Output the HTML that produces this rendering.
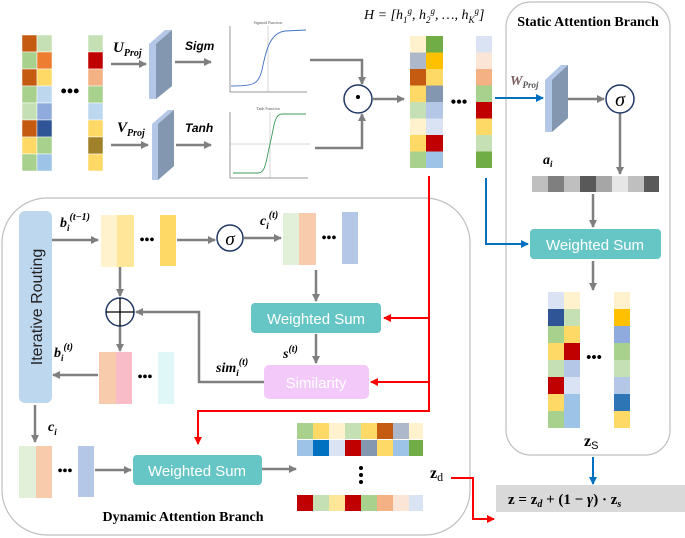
<!DOCTYPE html>
<html><head><meta charset="utf-8"><style>
body{margin:0;background:#fff}
svg{display:block}
text{font-family:"Liberation Serif",serif}
.s{font-family:"Liberation Sans",sans-serif}
</style></head><body>
<svg width="685" height="538" viewBox="0 0 685 538" xmlns="http://www.w3.org/2000/svg">
<defs>
<marker id="ag" markerWidth="8" markerHeight="8" refX="7" refY="4" orient="auto" markerUnits="userSpaceOnUse"><path d="M0,0 L8,4 L0,8 z" fill="#7f7f7f"/></marker>
<marker id="ar" markerWidth="8" markerHeight="8" refX="7" refY="4" orient="auto" markerUnits="userSpaceOnUse"><path d="M0,0 L8,4 L0,8 z" fill="#ff0000"/></marker>
<marker id="ab" markerWidth="8" markerHeight="8" refX="7" refY="4" orient="auto" markerUnits="userSpaceOnUse"><path d="M0,0 L8,4 L0,8 z" fill="#0070c0"/></marker>
</defs>

<!-- Boxes -->
<rect x="2" y="198" width="468" height="337" rx="45" fill="none" stroke="#bfbfbf" stroke-width="1.2"/>
<rect x="506" y="2" width="164" height="453" rx="25" fill="none" stroke="#bfbfbf" stroke-width="1.2"/>
<text x="588" y="26" font-size="14" font-weight="bold" text-anchor="middle">Static Attention Branch</text>
<text x="183" y="521" font-size="14" font-weight="bold" text-anchor="middle">Dynamic Attention Branch</text>

<g stroke="#808080" stroke-width="2.5" fill="none">
<!-- top arrows -->
<line x1="111" y1="64" x2="146" y2="64" marker-end="url(#ag)"/>
<line x1="175" y1="62" x2="211" y2="62" marker-end="url(#ag)"/>
<line x1="111" y1="145" x2="148" y2="145" marker-end="url(#ag)"/>
<line x1="176" y1="145" x2="211" y2="145" marker-end="url(#ag)"/>
<polyline points="310,60 362,60 362,84" marker-end="url(#ag)"/>
<polyline points="315,148 362,148 362,114" marker-end="url(#ag)"/>
<line x1="373" y1="99" x2="404" y2="99" marker-end="url(#ag)"/>
<line x1="568" y1="99" x2="604" y2="99" marker-end="url(#ag)"/>
<line x1="620" y1="113" x2="620" y2="174" marker-end="url(#ag)"/>
<line x1="593" y1="194" x2="593" y2="227" marker-end="url(#ag)"/>
<line x1="593" y1="261" x2="593" y2="290" marker-end="url(#ag)"/>
<!-- dynamic -->
<line x1="52" y1="240" x2="98" y2="240" marker-end="url(#ag)"/>
<line x1="177" y1="240" x2="215" y2="240" marker-end="url(#ag)"/>
<line x1="244" y1="238" x2="281" y2="238" marker-end="url(#ag)"/>
<line x1="316" y1="270" x2="316" y2="301" marker-end="url(#ag)"/>
<line x1="316" y1="334" x2="316" y2="363" marker-end="url(#ag)"/>
<polyline points="264,382 199,382 199,312 136,312" marker-end="url(#ag)"/>
<line x1="120" y1="267" x2="120" y2="296" marker-end="url(#ag)"/>
<line x1="120" y1="326" x2="120" y2="351" marker-end="url(#ag)"/>
<line x1="98" y1="375" x2="53" y2="375" marker-end="url(#ag)"/>
<line x1="35" y1="405" x2="35" y2="442" marker-end="url(#ag)"/>
<line x1="95" y1="470" x2="131" y2="470" marker-end="url(#ag)"/>
<line x1="262" y1="469" x2="296" y2="469" marker-end="url(#ag)"/>
</g>

<!-- red -->
<g stroke="#ff0000" stroke-width="2" fill="none">
<polyline points="429,176 429,411 198,411 198,444" marker-end="url(#ar)"/>
<line x1="429" y1="318" x2="384" y2="318" marker-end="url(#ar)"/>
<line x1="429" y1="382" x2="371" y2="382" marker-end="url(#ar)"/>
<polyline points="451,478 473,478 473,519 494,519" marker-end="url(#ar)"/>
</g>
<!-- blue -->
<g stroke="#0070c0" stroke-width="2" fill="none">
<line x1="495" y1="98" x2="543" y2="98" marker-end="url(#ab)"/>
<polyline points="486,178 486,244 528,244" marker-end="url(#ab)"/>
<line x1="593" y1="457" x2="593" y2="484" marker-end="url(#ab)"/>
</g>

<!-- Input matrix -->
<g stroke="#fff" stroke-width="0.5">
<rect x="22" y="35" width="15" height="17" fill="#c55a11"/><rect x="37" y="35" width="15" height="17" fill="#c5e0b4"/>
<rect x="22" y="52" width="15" height="17" fill="#a9d18e"/><rect x="37" y="52" width="15" height="17" fill="#ed7d31"/>
<rect x="22" y="69" width="15" height="17" fill="#c55a11"/><rect x="37" y="69" width="15" height="17" fill="#ffd966"/>
<rect x="22" y="86" width="15" height="17" fill="#a9d18e"/><rect x="37" y="86" width="15" height="17" fill="#bdd7ee"/>
<rect x="22" y="103" width="15" height="17" fill="#c5e0b4"/><rect x="37" y="103" width="15" height="17" fill="#8faadc"/>
<rect x="22" y="120" width="15" height="17" fill="#c55a11"/><rect x="37" y="120" width="15" height="17" fill="#2f5597"/>
<rect x="22" y="137" width="15" height="17" fill="#ffd966"/><rect x="37" y="137" width="15" height="17" fill="#a9d18e"/>
<rect x="22" y="154" width="15" height="17" fill="#a9d18e"/><rect x="37" y="154" width="15" height="17" fill="#9dc3e6"/>
<rect x="88" y="35" width="15" height="17" fill="#c5e0b4"/><rect x="88" y="52" width="15" height="17" fill="#c00000"/>
<rect x="88" y="69" width="15" height="17" fill="#f4b183"/><rect x="88" y="86" width="15" height="17" fill="#a9d18e"/>
<rect x="88" y="103" width="15" height="17" fill="#bdd7ee"/><rect x="88" y="120" width="15" height="17" fill="#ffd966"/>
<rect x="88" y="137" width="15" height="17" fill="#a0812a"/><rect x="88" y="154" width="15" height="17" fill="#ffd966"/>
</g>
<text x="70" y="97" font-size="18" font-weight="bold" text-anchor="middle">•••</text>

<!-- prisms -->
<polygon points="149,44 165,30 172,30 172,86 156,99 149,99" fill="#b4c7e7"/>
<polygon points="156,44 172,30 172,86 156,99" fill="#8497b0"/>
<polygon points="152,124 168,110 174,110 174,166 158,180 152,180" fill="#b4c7e7"/>
<polygon points="158,124 174,110 174,166 158,180" fill="#8497b0"/>
<polygon points="545,80 561,65 568,65 568,118 552,132 545,132" fill="#b4c7e7"/>
<polygon points="552,80 568,65 568,118 552,132" fill="#8497b0"/>

<text x="113" y="52" font-size="15" font-weight="bold" font-style="italic">U<tspan font-size="10" dy="4">Proj</tspan></text>
<text x="117" y="132" font-size="15" font-weight="bold" font-style="italic">V<tspan font-size="10" dy="4">Proj</tspan></text>
<text x="185" y="50" font-size="12" font-weight="bold" font-style="italic" class="s">Sigm</text>
<text x="185" y="132" font-size="12" font-weight="bold" font-style="italic" class="s">Tanh</text>
<text x="510" y="85" font-size="14" font-weight="bold" font-style="italic" fill="#7f6060">W<tspan font-size="9" dy="3" fill="#555">Proj</tspan></text>

<!-- plots -->
<g font-size="4" fill="#555" class="s">
<text x="268" y="24" text-anchor="middle">Sigmoid Function</text>
<line x1="230" y1="92" x2="307" y2="92" stroke="#333" stroke-width="0.5"/>
<line x1="230" y1="26" x2="230" y2="92" stroke="#333" stroke-width="0.5"/>
<line x1="268" y1="26" x2="268" y2="92" stroke="#999" stroke-width="0.4"/>
<path d="M231,86 C255,86 258,84 262,70 C266,50 270,33 285,31 L306,30" stroke="#4472c4" fill="none" stroke-width="0.9"/>
<text x="268" y="110" text-anchor="middle">Tanh Function</text>
<line x1="230" y1="178" x2="308" y2="178" stroke="#333" stroke-width="0.5"/>
<line x1="230" y1="112" x2="230" y2="178" stroke="#333" stroke-width="0.5"/>
<line x1="230" y1="144" x2="310" y2="144" stroke="#999" stroke-width="0.4"/>
<line x1="270" y1="112" x2="270" y2="178" stroke="#999" stroke-width="0.4"/>
<path d="M233,173 L258,173 C266,173 266,160 270,144 C274,128 274,114 282,114 L306,114" stroke="#3a9a5a" fill="none" stroke-width="0.9"/>
</g>

<!-- odot -->
<circle cx="358" cy="99" r="14" fill="#fff" stroke="#1f3864" stroke-width="1.5"/>
<circle cx="358" cy="97" r="2" fill="#000"/>

<text x="364" y="19" font-size="14" font-style="italic">H = [h<tspan font-size="9" dy="4">1</tspan><tspan font-size="9" dy="-9">g</tspan><tspan dy="5">, h</tspan><tspan font-size="9" dy="4">2</tspan><tspan font-size="9" dy="-9">g</tspan><tspan dy="5">, …, h</tspan><tspan font-size="9" dy="4">K</tspan><tspan font-size="9" dy="-9">g</tspan><tspan dy="5">]</tspan></text>

<!-- H matrix -->
<g>
<rect x="410" y="36" width="16" height="16.5" fill="#fff2cc"/><rect x="426" y="36" width="17" height="16.5" fill="#70ad47"/>
<rect x="410" y="52.5" width="16" height="16.5" fill="#adb9ca"/><rect x="426" y="52.5" width="17" height="16.5" fill="#ffc000"/>
<rect x="410" y="69" width="16" height="16.5" fill="#c55a11"/><rect x="426" y="69" width="17" height="16.5" fill="#ffd966"/>
<rect x="410" y="85.5" width="16" height="16.5" fill="#ffd966"/><rect x="426" y="85.5" width="17" height="16.5" fill="#8497b0"/>
<rect x="410" y="102" width="16" height="16.5" fill="#c5e0b4"/><rect x="426" y="102" width="17" height="16.5" fill="#b4c7e7"/>
<rect x="410" y="118.5" width="16" height="16.5" fill="#fff2cc"/><rect x="426" y="118.5" width="17" height="16.5" fill="#dae3f3"/>
<rect x="410" y="135" width="16" height="16.5" fill="#ffd966"/><rect x="426" y="135" width="17" height="16.5" fill="#c00000"/>
<rect x="410" y="151.5" width="16" height="16.5" fill="#a9d18e"/><rect x="426" y="151.5" width="17" height="16.5" fill="#9dc3e6"/>
<rect x="476" y="36" width="16" height="16.5" fill="#dae3f3"/><rect x="476" y="52.5" width="16" height="16.5" fill="#fbe5d6"/>
<rect x="476" y="69" width="16" height="16.5" fill="#f4b183"/><rect x="476" y="85.5" width="16" height="16.5" fill="#a9d18e"/>
<rect x="476" y="102" width="16" height="16.5" fill="#c00000"/><rect x="476" y="118.5" width="16" height="16.5" fill="#ffd966"/>
<rect x="476" y="135" width="16" height="16.5" fill="#c5e0b4"/><rect x="476" y="151.5" width="16" height="16.5" fill="#70ad47"/>
</g>
<text x="459" y="107" font-size="16" font-weight="bold" text-anchor="middle">•••</text>

<!-- static -->
<circle cx="620" cy="99" r="14" fill="#fff" stroke="#1f3864" stroke-width="1.5"/>
<text x="620" y="106" font-size="20" font-style="italic" text-anchor="middle">σ</text>
<text x="543" y="164" font-size="14" font-weight="bold" font-style="italic">a<tspan font-size="9" dy="3">i</tspan></text>
<g>
<rect x="532" y="176" width="16" height="16" fill="#bfbfbf"/><rect x="548" y="176" width="16" height="16" fill="#7f7f7f"/>
<rect x="564" y="176" width="16" height="16" fill="#bfbfbf"/><rect x="580" y="176" width="16" height="16" fill="#595959"/>
<rect x="596" y="176" width="16" height="16" fill="#a6a6a6"/><rect x="612" y="176" width="16" height="16" fill="#e7e6e6"/>
<rect x="628" y="176" width="16" height="16" fill="#bfbfbf"/><rect x="644" y="176" width="15" height="16" fill="#595959"/>
</g>
<rect x="530" y="229" width="131" height="30" rx="4" fill="#66c5c5"/>
<text x="595" y="250" font-size="15" fill="#fff" text-anchor="middle" class="s">Weighted Sum</text>
<g>
<rect x="548" y="292" width="16" height="17" fill="#dae3f3"/><rect x="564" y="292" width="16" height="17" fill="#fff2cc"/>
<rect x="548" y="309" width="16" height="17" fill="#2f5597"/><rect x="564" y="309" width="16" height="17" fill="#c5e0b4"/>
<rect x="548" y="326" width="16" height="17" fill="#a9d18e"/><rect x="564" y="326" width="16" height="17" fill="#ffd966"/>
<rect x="548" y="343" width="16" height="17" fill="#ffd966"/><rect x="564" y="343" width="16" height="17" fill="#c00000"/>
<rect x="548" y="360" width="16" height="17" fill="#c5e0b4"/><rect x="564" y="360" width="16" height="17" fill="#b4c7e7"/>
<rect x="548" y="377" width="16" height="17" fill="#c00000"/><rect x="564" y="377" width="16" height="17" fill="#dae3f3"/>
<rect x="548" y="394" width="16" height="17" fill="#ffd966"/><rect x="564" y="394" width="16" height="17" fill="#9dc3e6"/>
<rect x="548" y="411" width="16" height="17" fill="#a9d18e"/><rect x="564" y="411" width="16" height="17" fill="#9dc3e6"/>
<rect x="614" y="292" width="16" height="17" fill="#fff2cc"/><rect x="614" y="309" width="16" height="17" fill="#ffc000"/>
<rect x="614" y="326" width="16" height="17" fill="#8faadc"/><rect x="614" y="343" width="16" height="17" fill="#a9d18e"/>
<rect x="614" y="360" width="16" height="17" fill="#c5e0b4"/><rect x="614" y="377" width="16" height="17" fill="#b4c7e7"/>
<rect x="614" y="394" width="16" height="17" fill="#2e75b6"/><rect x="614" y="411" width="16" height="17" fill="#ffd966"/>
</g>
<text x="594" y="362" font-size="15" font-weight="bold" text-anchor="middle">•••</text>
<text x="584" y="446" font-size="16" font-weight="bold">z<tspan font-size="11" dy="3" font-weight="normal" class="s">S</tspan></text>

<rect x="496" y="485" width="189" height="27" fill="#d9d9d9"/>
<text x="508" y="504" font-size="15" font-weight="bold">z = z<tspan font-size="10" dy="3" font-style="italic">d</tspan><tspan dy="-3"> + (1 − </tspan><tspan font-style="italic">γ</tspan>) · z<tspan font-size="10" dy="3" font-style="italic">s</tspan></text>

<!-- dynamic -->
<rect x="19" y="211" width="33" height="192" rx="6" fill="#bdd7ee"/>
<text transform="translate(42,307) rotate(-90)" font-size="16" text-anchor="middle" class="s" fill="#222">Iterative Routing</text>
<text x="60" y="227" font-size="14" font-weight="bold" font-style="italic">b<tspan font-size="9" dy="4">i</tspan><tspan font-size="10" dy="-11">(t−1)</tspan></text>
<rect x="101" y="215" width="16" height="52" fill="#fff2cc"/><rect x="117" y="215" width="17" height="52" fill="#ffe699"/>
<rect x="160" y="215" width="16" height="51" fill="#ffd966"/>
<text x="147" y="244" font-size="14" font-weight="bold" text-anchor="middle">•••</text>
<circle cx="230" cy="238" r="13" fill="#fff" stroke="#1f3864" stroke-width="1.5"/>
<text x="230" y="245" font-size="19" font-style="italic" text-anchor="middle">σ</text>
<text x="260" y="225" font-size="14" font-weight="bold" font-style="italic">c<tspan font-size="9" dy="4">i</tspan><tspan font-size="10" dy="-11">(t)</tspan></text>
<rect x="283" y="213" width="16" height="52" fill="#e2f0d9"/><rect x="299" y="213" width="17" height="52" fill="#f8cbad"/>
<rect x="342" y="212" width="16" height="52" fill="#b4c7e7"/>
<text x="329" y="242" font-size="14" font-weight="bold" text-anchor="middle">•••</text>
<rect x="251" y="303" width="130" height="30" rx="4" fill="#66c5c5"/>
<text x="316" y="324" font-size="15" fill="#fff" text-anchor="middle" class="s">Weighted Sum</text>
<text x="283" y="358" font-size="14" font-weight="bold" font-style="italic">s<tspan font-size="10" dy="-6">(t)</tspan></text>
<rect x="264" y="365" width="105" height="34" rx="5" fill="#f3c9f9"/>
<text x="316" y="388" font-size="15" fill="#fff" text-anchor="middle" class="s">Similarity</text>
<text x="216" y="372" font-size="14" font-weight="bold" font-style="italic">sim<tspan font-size="9" dy="4">i</tspan><tspan font-size="10" dy="-11">(t)</tspan></text>
<circle cx="120" cy="312" r="14" fill="#fff" stroke="#1f3864" stroke-width="1.5"/>
<line x1="106" y1="312" x2="134" y2="312" stroke="#000" stroke-width="1.3"/>
<line x1="120" y1="298" x2="120" y2="326" stroke="#000" stroke-width="1.3"/>
<text x="54" y="357" font-size="14" font-weight="bold" font-style="italic">b<tspan font-size="9" dy="4">i</tspan><tspan font-size="10" dy="-11">(t)</tspan></text>
<rect x="99" y="352" width="17" height="52" fill="#f8cbad"/><rect x="116" y="352" width="16" height="52" fill="#f8bbc8"/>
<rect x="158" y="352" width="16" height="52" fill="#e0f7f7"/>
<text x="145" y="381" font-size="14" font-weight="bold" text-anchor="middle">•••</text>
<text x="48" y="431" font-size="14" font-weight="bold" font-style="italic">c<tspan font-size="9" dy="4">i</tspan></text>
<rect x="19" y="446" width="17" height="52" fill="#e2f0d9"/><rect x="36" y="446" width="16" height="52" fill="#f8cbad"/>
<rect x="78" y="446" width="16" height="51" fill="#b4c7e7"/>
<text x="65" y="475" font-size="14" font-weight="bold" text-anchor="middle">•••</text>
<rect x="133" y="455" width="129" height="30" rx="4" fill="#66c5c5"/>
<text x="197" y="476" font-size="15" fill="#fff" text-anchor="middle" class="s">Weighted Sum</text>
<g>
<rect x="297" y="423" width="16" height="16" fill="#a9d18e"/><rect x="313" y="423" width="16" height="16" fill="#ffd966"/>
<rect x="329" y="423" width="16" height="16" fill="#fff2cc"/><rect x="345" y="423" width="16" height="16" fill="#c5e0b4"/>
<rect x="361" y="423" width="16" height="16" fill="#ffd966"/><rect x="377" y="423" width="16" height="16" fill="#c55a11"/>
<rect x="393" y="423" width="16" height="16" fill="#adb9ca"/><rect x="409" y="423" width="14" height="16" fill="#fff2cc"/>
<rect x="297" y="440" width="16" height="16" fill="#9dc3e6"/><rect x="313" y="440" width="16" height="16" fill="#0070c0"/>
<rect x="329" y="440" width="16" height="16" fill="#dae3f3"/><rect x="345" y="440" width="16" height="16" fill="#c00000"/>
<rect x="361" y="440" width="16" height="16" fill="#8497b0"/><rect x="377" y="440" width="16" height="16" fill="#ffd966"/>
<rect x="393" y="440" width="16" height="16" fill="#9dc3e6"/><rect x="409" y="440" width="14" height="16" fill="#70ad47"/>
<rect x="297" y="495" width="16" height="16" fill="#c00000"/><rect x="313" y="495" width="16" height="16" fill="#c5e0b4"/>
<rect x="329" y="495" width="16" height="16" fill="#ffe699"/><rect x="345" y="495" width="16" height="16" fill="#c00000"/>
<rect x="361" y="495" width="16" height="16" fill="#a9d18e"/><rect x="377" y="495" width="16" height="16" fill="#f4b183"/>
<rect x="393" y="495" width="16" height="16" fill="#fbe5d6"/><rect x="409" y="495" width="14" height="16" fill="#dae3f3"/>
</g>
<circle cx="361" cy="468" r="2" fill="#000"/><circle cx="361" cy="475" r="2" fill="#000"/><circle cx="361" cy="482" r="2" fill="#000"/>
<text x="430" y="478" font-size="16" font-weight="bold">z<tspan font-size="12" dy="3" font-weight="normal">d</tspan></text>
</svg>
</body></html>
